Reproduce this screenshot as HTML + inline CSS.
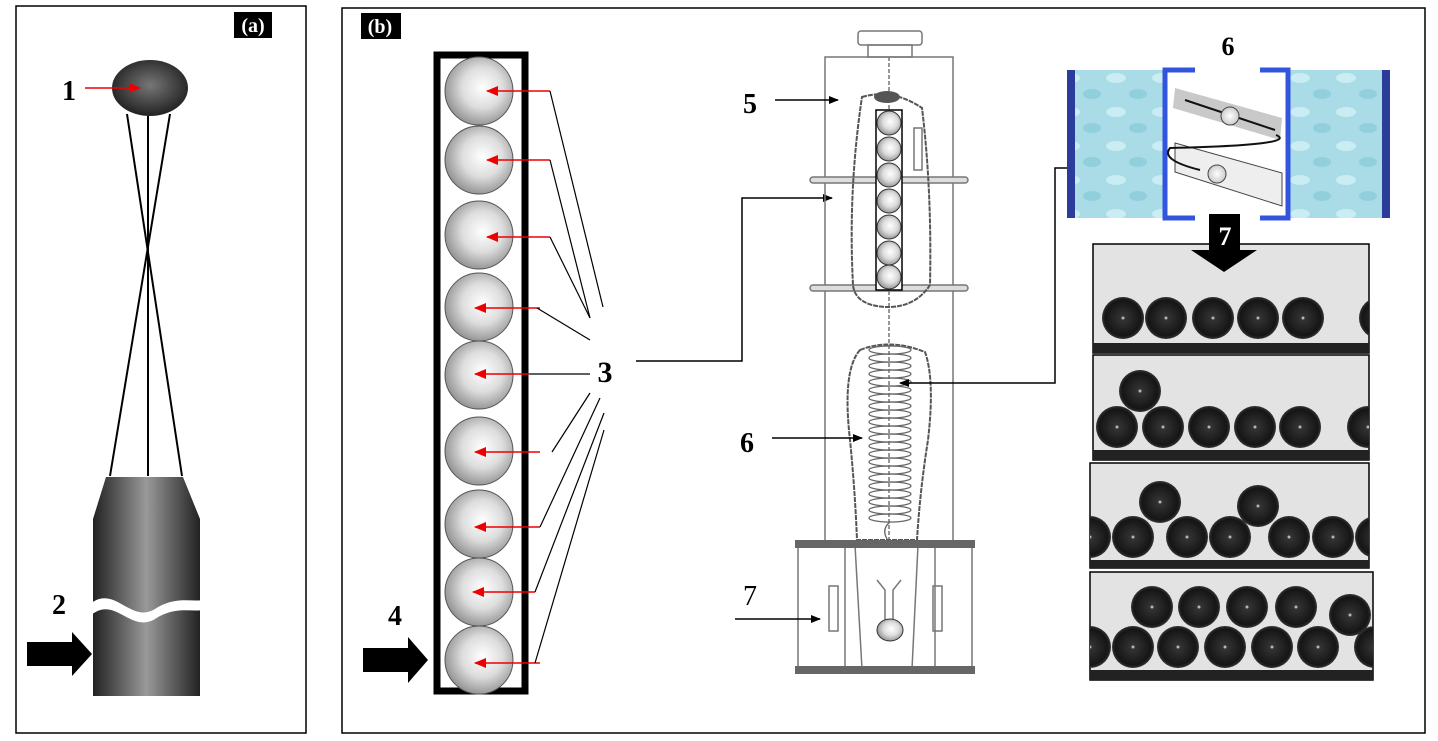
<!DOCTYPE html>
<html><head><meta charset="utf-8"><style>
html,body{margin:0;padding:0;background:#fff;}
svg{display:block;font-family:"Liberation Serif",serif;font-weight:bold;}
</style></head><body>
<svg width="1438" height="741" viewBox="0 0 1438 741" xmlns="http://www.w3.org/2000/svg">
<defs>
<radialGradient id="gb" cx="0.55" cy="0.45" r="0.6"><stop offset="0" stop-color="#fff"/><stop offset="0.5" stop-color="#ddd"/><stop offset="1" stop-color="#8a8a8a"/></radialGradient>
<radialGradient id="dk" cx="0.5" cy="0.45" r="0.6"><stop offset="0" stop-color="#777"/><stop offset="1" stop-color="#1a1a1a"/></radialGradient>
<radialGradient id="bk" cx="0.5" cy="0.5" r="0.5"><stop offset="0" stop-color="#fff"/><stop offset="0.1" stop-color="#333"/><stop offset="0.85" stop-color="#151515"/><stop offset="1" stop-color="#333"/></radialGradient>
<linearGradient id="cyl" x1="0" x2="1"><stop offset="0" stop-color="#222"/><stop offset="0.5" stop-color="#999"/><stop offset="1" stop-color="#222"/></linearGradient>
<radialGradient id="bl" cx="0.5" cy="0.5" r="0.5"><stop offset="0" stop-color="#fff"/><stop offset="1" stop-color="#ccc"/></radialGradient>
<pattern id="water" width="46" height="34" patternUnits="userSpaceOnUse"><rect width="46" height="34" fill="#a9dce6"/><ellipse cx="12" cy="10" rx="10" ry="5" fill="#c9edf3"/><ellipse cx="34" cy="26" rx="9" ry="5" fill="#92cfdc"/></pattern>
<clipPath id="c1"><rect x="1093" y="244" width="276" height="109"/></clipPath>
<clipPath id="c2"><rect x="1093" y="355" width="276" height="105"/></clipPath>
<clipPath id="c3"><rect x="1090" y="463" width="279" height="105"/></clipPath>
<clipPath id="c4"><rect x="1090" y="572" width="283" height="108"/></clipPath>
<marker id="ah" markerWidth="10" markerHeight="8" refX="9" refY="4" orient="auto" markerUnits="userSpaceOnUse"><path d="M0,0 L10,4 L0,8 Z" fill="#000"/></marker>
<marker id="rh" markerWidth="12" markerHeight="10" refX="11" refY="5" orient="auto" markerUnits="userSpaceOnUse"><path d="M0,0 L12,5 L0,10 Z" fill="#e00"/></marker>
</defs>
<!-- panel a -->
<rect x="16" y="6" width="290" height="727" fill="#fff" stroke="#000" stroke-width="1.5"/>
<rect x="234" y="12" width="38" height="26" fill="#000"/>
<text x="253" y="32" fill="#fff" font-size="20" text-anchor="middle">(a)</text>
<g stroke="#000" stroke-width="2" fill="none">
<line x1="127" y1="114" x2="182" y2="476"/><line x1="170" y1="114" x2="110" y2="476"/><line x1="148" y1="116" x2="148" y2="476"/>
</g>
<ellipse cx="150" cy="88" rx="38" ry="28" fill="url(#dk)"/>
<text x="62" y="100" font-size="28">1</text>
<line x1="85" y1="88" x2="140" y2="88" stroke="#e00" stroke-width="1.5" marker-end="url(#rh)"/>
<path d="M106,477 L183,477 L200,519 L200,696 L93,696 L93,519 Z" fill="url(#cyl)"/>
<path d="M90,604 C115,584 130,624 155,609 C175,596 190,602 205,600 L205,610 C190,612 175,606 155,619 C130,634 115,594 90,616 Z" fill="#fff"/>
<text x="52" y="614" font-size="28">2</text>
<path d="M27,642 L72,642 L72,632 L92,654 L72,676 L72,666 L27,666 Z" fill="#000"/>
<!-- panel b -->
<rect x="342" y="8" width="1083" height="725" fill="#fff" stroke="#000" stroke-width="1.5"/>
<rect x="361" y="13" width="40" height="26" fill="#000"/>
<text x="380" y="33" fill="#fff" font-size="20" text-anchor="middle">(b)</text>
<rect x="437" y="55" width="88" height="636" fill="#fff" stroke="#000" stroke-width="7"/>
<g fill="url(#gb)" stroke="#555">
<circle cx="479" cy="91" r="34"/><circle cx="479" cy="160" r="34"/><circle cx="479" cy="235" r="34"/><circle cx="479" cy="307" r="34"/><circle cx="479" cy="375" r="34"/><circle cx="479" cy="451" r="34"/><circle cx="479" cy="524" r="34"/><circle cx="479" cy="592" r="34"/><circle cx="479" cy="660" r="34"/>
</g>
<g stroke="#e00" stroke-width="1.5">
<line x1="550" y1="91" x2="487" y2="91" marker-end="url(#rh)"/>
<line x1="550" y1="160" x2="487" y2="160" marker-end="url(#rh)"/>
<line x1="550" y1="237" x2="487" y2="237" marker-end="url(#rh)"/>
<line x1="540" y1="308" x2="475" y2="308" marker-end="url(#rh)"/>
<line x1="530" y1="374" x2="475" y2="374" marker-end="url(#rh)"/>
<line x1="540" y1="452" x2="475" y2="452" marker-end="url(#rh)"/>
<line x1="540" y1="527" x2="475" y2="527" marker-end="url(#rh)"/>
<line x1="535" y1="592" x2="473" y2="592" marker-end="url(#rh)"/>
<line x1="540" y1="663" x2="475" y2="663" marker-end="url(#rh)"/>
</g>
<g stroke="#000" stroke-width="1.2">
<line x1="550" y1="91" x2="603" y2="307"/>
<line x1="550" y1="160" x2="590" y2="318"/>
<line x1="550" y1="237" x2="590" y2="318"/>
<line x1="537" y1="308" x2="590" y2="340"/>
<line x1="530" y1="374" x2="590" y2="374"/>
<line x1="552" y1="452" x2="590" y2="393"/>
<line x1="540" y1="527" x2="600" y2="398"/>
<line x1="535" y1="592" x2="604" y2="413"/>
<line x1="535" y1="663" x2="604" y2="430"/>
</g>
<text x="605" y="382" font-size="30" text-anchor="middle">3</text>
<text x="395" y="625" font-size="28" text-anchor="middle">4</text>
<path d="M363,648 L408,648 L408,637 L428,660 L408,683 L408,672 L363,672 Z" fill="#000"/>
<polyline points="636,361 742,361 742,198 832,198" fill="none" stroke="#000" stroke-width="1.5" marker-end="url(#ah)"/>
<!-- apparatus -->
<g stroke="#777" stroke-width="1.5" fill="none">
<rect x="858" y="31" width="64" height="14" rx="3"/>
<rect x="868" y="45" width="44" height="12"/>
<rect x="825" y="57" width="128" height="486"/>
<line x1="889" y1="57" x2="889" y2="545" stroke-dasharray="4 2"/>
<rect x="810" y="177" width="158" height="6" rx="3" fill="#ddd"/>
<rect x="810" y="285" width="158" height="6" rx="3" fill="#ddd"/>
<path d="M862,97 Q892,88 922,108 Q932,190 930,285 Q915,308 885,307 Q855,305 853,285 Q848,190 862,97 Z" stroke-dasharray="5 1" stroke-width="2" stroke="#555"/>
<path d="M860,350 Q890,338 925,352 Q935,380 928,440 Q920,490 917,540 L857,540 Q855,490 850,440 Q842,370 860,350 Z" stroke-dasharray="5 1" stroke-width="2" stroke="#555"/>
<rect x="914" y="128" width="8" height="42"/>
<rect x="798" y="545" width="174" height="124"/>
<line x1="845" y1="545" x2="845" y2="669"/><line x1="935" y1="545" x2="935" y2="669"/>
<line x1="855" y1="545" x2="862" y2="669"/><line x1="918" y1="545" x2="912" y2="669"/>
<rect x="829" y="586" width="9" height="45"/><rect x="933" y="586" width="9" height="45"/>
<path d="M877,580 L885,590 L885,622 M901,580 L893,590 L893,622"/>
</g>
<g fill="none" stroke="#666" stroke-width="1.3">
<ellipse cx="890" cy="350" rx="21" ry="4"/><ellipse cx="890" cy="358" rx="21" ry="4"/><ellipse cx="890" cy="366" rx="21" ry="4"/><ellipse cx="890" cy="374" rx="21" ry="4"/><ellipse cx="890" cy="382" rx="21" ry="4"/><ellipse cx="890" cy="390" rx="21" ry="4"/><ellipse cx="890" cy="398" rx="21" ry="4"/><ellipse cx="890" cy="406" rx="21" ry="4"/><ellipse cx="890" cy="414" rx="21" ry="4"/><ellipse cx="890" cy="422" rx="21" ry="4"/><ellipse cx="890" cy="430" rx="21" ry="4"/><ellipse cx="890" cy="438" rx="21" ry="4"/><ellipse cx="890" cy="446" rx="21" ry="4"/><ellipse cx="890" cy="454" rx="21" ry="4"/><ellipse cx="890" cy="462" rx="21" ry="4"/><ellipse cx="890" cy="470" rx="21" ry="4"/><ellipse cx="890" cy="478" rx="21" ry="4"/><ellipse cx="890" cy="486" rx="21" ry="4"/><ellipse cx="890" cy="494" rx="21" ry="4"/><ellipse cx="890" cy="502" rx="21" ry="4"/><ellipse cx="890" cy="510" rx="21" ry="4"/><ellipse cx="890" cy="518" rx="21" ry="4"/>
<path d="M890,522 Q880,530 889,542"/>
</g>
<rect x="795" y="540" width="180" height="8" fill="#666"/>
<rect x="795" y="666" width="180" height="8" fill="#666"/>
<ellipse cx="890" cy="630" rx="13" ry="11" fill="url(#gb)" stroke="#333"/>
<ellipse cx="887" cy="97" rx="13" ry="6" fill="#555"/>
<rect x="876" y="110" width="26" height="180" fill="#fff" stroke="#000" stroke-width="1.5"/>
<g fill="url(#gb)" stroke="#333">
<ellipse cx="889" cy="123" rx="12" ry="12"/><ellipse cx="889" cy="149" rx="12" ry="12"/><ellipse cx="889" cy="175" rx="12" ry="12"/><ellipse cx="889" cy="201" rx="12" ry="12"/><ellipse cx="889" cy="227" rx="12" ry="12"/><ellipse cx="889" cy="253" rx="12" ry="12"/><ellipse cx="889" cy="277" rx="12" ry="12"/>
</g>
<text x="750" y="113" font-size="28" text-anchor="middle">5</text>
<line x1="775" y1="100" x2="838" y2="100" stroke="#000" stroke-width="1.5" marker-end="url(#ah)"/>
<text x="747" y="452" font-size="28" text-anchor="middle">6</text>
<line x1="772" y1="438" x2="862" y2="438" stroke="#000" stroke-width="1.5" marker-end="url(#ah)"/>
<text x="750" y="605" font-size="28" font-weight="normal" text-anchor="middle">7</text>
<line x1="735" y1="619" x2="820" y2="619" stroke="#000" stroke-width="1.5" marker-end="url(#ah)"/>
<polyline points="1200,168 1055,168 1055,383 900,383" fill="none" stroke="#000" stroke-width="1.5" marker-end="url(#ah)"/>
<!-- water -->
<rect x="1067" y="70" width="323" height="148" fill="url(#water)"/>
<rect x="1067" y="70" width="8" height="148" fill="#2b3c9a"/>
<rect x="1382" y="70" width="8" height="148" fill="#2b3c9a"/>
<rect x="1165" y="65" width="125" height="158" fill="#fff"/>
<path d="M1195,70 L1165,70 L1165,218 L1195,218" fill="none" stroke="#3355dd" stroke-width="5"/>
<path d="M1260,70 L1288,70 L1288,218 L1260,218" fill="none" stroke="#3355dd" stroke-width="5"/>
<path d="M1175,88 L1282,118 L1280,140 L1173,108 Z" fill="#bbb" opacity="0.8"/>
<path d="M1175,143 L1282,173 L1282,206 L1175,172 Z" fill="#eee" stroke="#444" stroke-width="1"/>
<line x1="1185" y1="100" x2="1275" y2="130" stroke="#111" stroke-width="2"/>
<path d="M1276,135 Q1300,145 1170,148 Q1160,160 1200,170" fill="none" stroke="#111" stroke-width="2"/>
<circle cx="1230" cy="116" r="9" fill="url(#bl)" stroke="#444"/>
<circle cx="1217" cy="174" r="9" fill="url(#bl)" stroke="#444"/>
<text x="1228" y="55" font-size="26" text-anchor="middle">6</text>
<!-- photos -->
<g stroke="#000" stroke-width="1.5" fill="#e3e3e3">
<rect x="1093" y="244" width="276" height="109"/>
<rect x="1093" y="355" width="276" height="105"/>
<rect x="1090" y="463" width="279" height="105"/>
<rect x="1090" y="572" width="283" height="108"/>
</g>
<rect x="1093" y="343" width="276" height="10" fill="#222"/>
<rect x="1093" y="450" width="276" height="10" fill="#222"/>
<rect x="1090" y="560" width="279" height="8" fill="#222"/>
<rect x="1090" y="670" width="283" height="10" fill="#222"/>
<g fill="url(#bk)">
<g clip-path="url(#c1)"><circle cx="1123" cy="318" r="21"/><circle cx="1166" cy="318" r="21"/><circle cx="1213" cy="318" r="21"/><circle cx="1258" cy="318" r="21"/><circle cx="1303" cy="318" r="21"/><circle cx="1380" cy="318" r="21"/></g>
<g clip-path="url(#c2)"><circle cx="1117" cy="427" r="21"/><circle cx="1163" cy="427" r="21"/><circle cx="1209" cy="427" r="21"/><circle cx="1255" cy="427" r="21"/><circle cx="1300" cy="427" r="21"/><circle cx="1368" cy="427" r="21"/><circle cx="1140" cy="391" r="21"/></g>
<g clip-path="url(#c3)"><circle cx="1090" cy="537" r="21"/><circle cx="1133" cy="537" r="21"/><circle cx="1187" cy="537" r="21"/><circle cx="1230" cy="537" r="21"/><circle cx="1289" cy="537" r="21"/><circle cx="1333" cy="537" r="21"/><circle cx="1376" cy="537" r="21"/><circle cx="1160" cy="502" r="21"/><circle cx="1258" cy="506" r="21"/></g>
<g clip-path="url(#c4)"><circle cx="1090" cy="647" r="21"/><circle cx="1133" cy="647" r="21"/><circle cx="1178" cy="647" r="21"/><circle cx="1225" cy="647" r="21"/><circle cx="1272" cy="647" r="21"/><circle cx="1318" cy="647" r="21"/><circle cx="1375" cy="647" r="21"/>
<circle cx="1152" cy="607" r="21"/><circle cx="1199" cy="607" r="21"/><circle cx="1247" cy="607" r="21"/><circle cx="1296" cy="607" r="21"/><circle cx="1350" cy="615" r="21"/></g>
</g>
<path d="M1209,214 L1240,214 L1240,250 L1257,250 L1224,272 L1191,250 L1209,250 Z" fill="#000"/>
<text x="1225" y="245" fill="#fff" font-size="26" text-anchor="middle">7</text>
</svg>
</body></html>
